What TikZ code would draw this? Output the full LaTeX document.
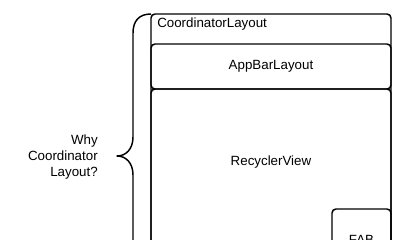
\documentclass[tikz,border=0pt]{standalone}
\usepackage{fontspec}
\setmainfont{Liberation Sans}
\begin{document}
\begin{tikzpicture}[x=0.75pt,y=-0.75pt,
  box/.style={draw=black,line width=1.1pt,rounded corners=3pt,inner sep=0pt,outer sep=0pt,anchor=north west},
  lbl/.style={font=\fontsize{10}{12}\selectfont,inner sep=0pt,text=black}]
\useasboundingbox (0,0) rectangle (412,240);
\clip (0,0) rectangle (412,240);
% boxes
\node[box,minimum width=180pt,minimum height=225pt] (coord) at (151,14) {};
\node[box,minimum width=180pt,minimum height=33.75pt,lbl] (appbar) at (151,44) {AppBarLayout};
\node[box,minimum width=180pt,minimum height=158.25pt] (recycler) at (151,89) {};
\node[box,minimum width=44.25pt,minimum height=45.75pt,lbl] (fab) at (332,209) {FAB};
% labels
\node[lbl,anchor=west] (coordtext) at (157,24) {CoordinatorLayout};
\node[lbl] (rvtext) at (271,162) {RecyclerView};
\node[lbl,align=right,anchor=east] (why) at (98,157) {Why\\Coordinator\\Layout?};
% brace
\draw[line width=1.1pt,line join=round]
  (coord.north west) .. controls (139,14) and (133,21) .. (133,33)
  -- (133,137) .. controls (133,149) and (126,156) .. (117,156)
  .. controls (126,156) and (133,163) .. (133,175)
  -- (133,279) .. controls (133,291) and (139,298) .. (151,298);
\end{tikzpicture}
\end{document}
